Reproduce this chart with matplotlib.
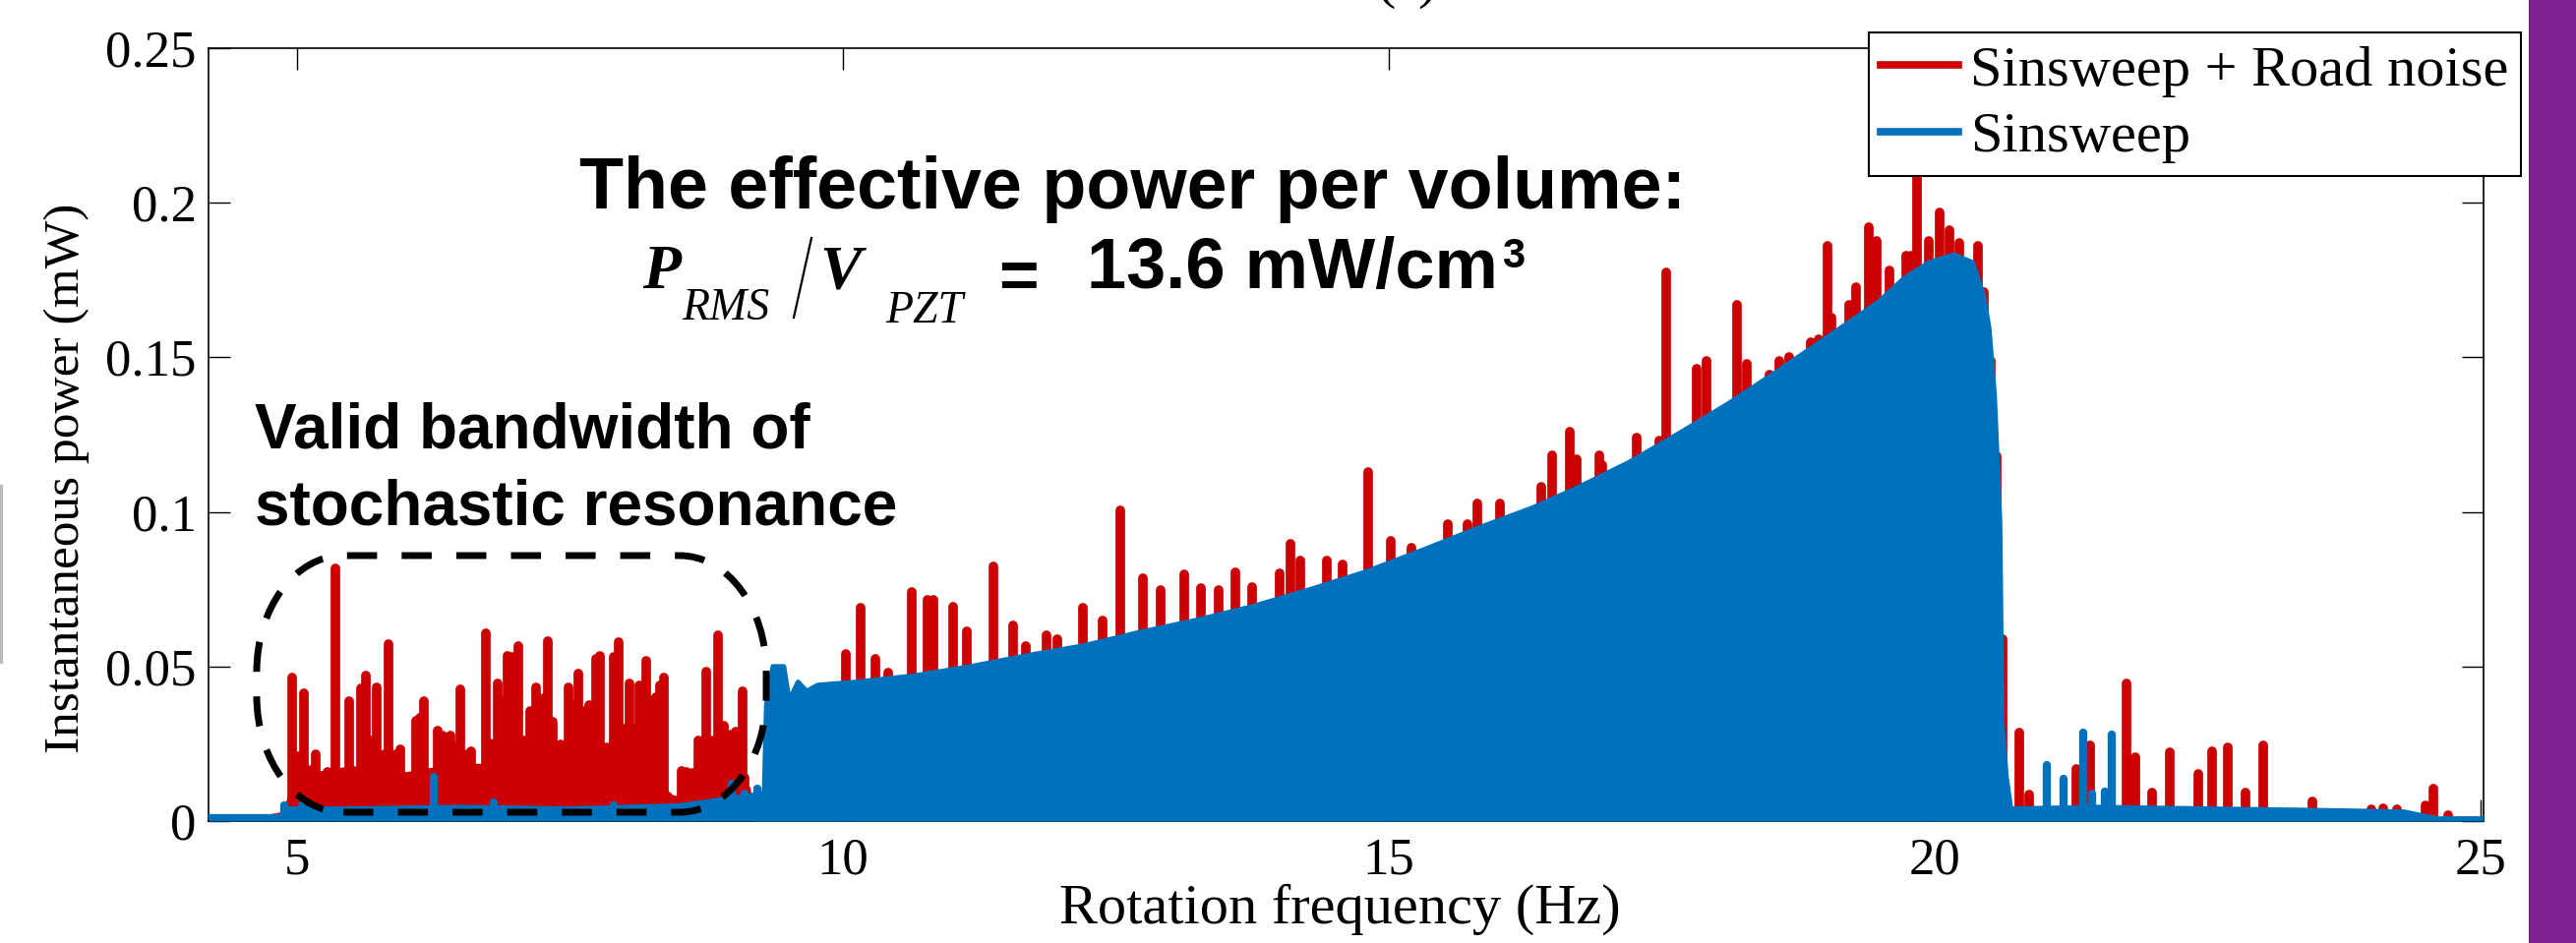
import matplotlib
matplotlib.use('Agg')
import matplotlib.pyplot as plt
from matplotlib.path import Path
from matplotlib.patches import PathPatch, Rectangle
from matplotlib.lines import Line2D
from matplotlib.transforms import IdentityTransform

W, H = 2619, 959

# ---- values ----
# upper envelope of the (dense) Sinsweep signal
blue_env_f = [4.19, 4.85, 4.90, 5.5, 6.5, 7.5, 8.5, 8.9, 9.10, 9.28, 9.30, 9.36, 9.46,
              9.51, 9.59, 9.67, 9.77, 10.13, 10.65, 11.17, 11.68, 12.20, 12.71, 13.24,
              13.75, 14.26, 14.78, 15.30, 15.82, 16.33, 16.74, 17.20, 17.66, 18.11,
              18.57, 19.03, 19.49, 19.72, 19.95, 20.18, 20.35, 20.45, 20.50, 20.55,
              20.60, 20.62, 20.66, 20.70, 21.5, 22.5, 23.5, 24.3, 24.6, 25.03]
blue_env_p = [0.0015, 0.0015, 0.004, 0.004, 0.0045, 0.004, 0.005, 0.007, 0.008, 0.009,
              0.0375, 0.050, 0.050, 0.039, 0.045, 0.042, 0.044, 0.045, 0.047, 0.050,
              0.0535, 0.0567, 0.061, 0.065, 0.0694, 0.0747, 0.0805, 0.0875, 0.0948,
              0.1015, 0.108, 0.116, 0.1254, 0.135, 0.1457, 0.1568, 0.168, 0.1755,
              0.1807, 0.1832, 0.1807, 0.170, 0.1597, 0.138, 0.097, 0.032, 0.014, 0.004,
              0.0045, 0.004, 0.0035, 0.003, 0.0008, 0.0008]
# isolated Sinsweep peaks
blue_spike_f = [4.88, 5.05, 6.25, 6.8, 7.9, 8.98, 9.10, 9.22,
                21.03, 21.18, 21.36, 21.44, 21.56, 21.62]
blue_spike_p = [0.005, 0.005, 0.0143, 0.006, 0.005, 0.012, 0.009, 0.0105,
                0.018, 0.0138, 0.0287, 0.009, 0.0094, 0.028]

# dense low part of Sinsweep + Road noise (5-9 Hz)
red_floor_f = [4.19, 4.5, 4.7, 4.85, 4.93, 5.0, 5.5, 6.0, 6.5, 7.0, 7.5, 8.0, 8.4,
               8.5, 8.7, 9.0, 9.15, 9.2]
red_floor_p = [0.001, 0.0015, 0.002, 0.003, 0.009, 0.015, 0.018, 0.016, 0.019, 0.018,
               0.020, 0.018, 0.009, 0.008, 0.014, 0.017, 0.011, 0.0]
# Sinsweep + Road noise peaks
red_spike_f = [4.955, 5.01, 5.06, 5.13, 5.17, 5.28, 5.35, 5.45, 5.48, 5.59, 5.63, 5.69,
               5.73, 5.80, 5.84, 5.91, 5.95, 6.09, 6.13, 6.16, 6.29, 6.33, 6.41, 6.45,
               6.50, 6.56, 6.60, 6.66, 6.73, 6.77, 6.84, 6.89, 6.93, 6.97, 7.03, 7.08,
               7.14, 7.19, 7.26, 7.30, 7.34, 7.42, 7.45, 7.49, 7.54, 7.58, 7.63, 7.68,
               7.74, 7.78, 7.84, 7.90, 7.95, 8.00, 8.05, 8.08, 8.14, 8.20, 8.26, 8.29,
               8.33, 8.36, 8.40, 8.52, 8.57, 8.62, 8.68, 8.75, 8.81, 8.86, 8.91, 8.97,
               9.02, 9.08, 9.10,
               10.03, 10.16, 10.30, 10.42, 10.63, 10.78, 10.83, 11.01, 11.14, 11.38,
               11.56, 11.68, 11.87, 11.97, 12.20, 12.38, 12.54, 12.75, 12.91, 13.13,
               13.28, 13.44, 13.60, 13.75, 14.00, 14.10, 14.19, 14.43, 14.58, 14.81,
               15.02, 15.21, 15.54, 15.72, 15.81, 16.02, 16.40, 16.50, 16.66, 16.72,
               16.93, 16.96, 17.27, 17.48, 17.54, 17.82, 17.91, 18.19, 18.28, 18.49,
               18.58, 18.67, 18.87, 18.94, 19.02, 19.06, 19.22, 19.28, 19.40, 19.47,
               19.59, 19.74, 19.79, 19.84, 19.95, 20.05, 20.14, 20.23, 20.40, 20.45,
               20.52, 20.57, 20.62,
               20.78, 20.87, 21.30, 21.43, 21.76, 21.84, 21.99, 22.16, 22.42, 22.54,
               22.69, 22.85, 23.01, 23.46, 24.00, 24.11, 24.24, 24.50, 24.57, 24.71]
red_spike_p = [0.0464, 0.021, 0.0413, 0.0165, 0.0217, 0.016, 0.0817, 0.010, 0.0388,
               0.043, 0.047, 0.026, 0.0432, 0.0217, 0.0573, 0.0217, 0.0232, 0.0323,
               0.0334, 0.0388, 0.0293, 0.0276, 0.0276, 0.024, 0.0426, 0.0217, 0.0226,
               0.011, 0.0608, 0.025, 0.0445, 0.0388, 0.0534, 0.053, 0.0566, 0.026,
               0.0356, 0.0432, 0.0397, 0.0583, 0.032, 0.0249, 0.024, 0.0432, 0.0376,
               0.0477, 0.0356, 0.0375, 0.0525, 0.0535, 0.024, 0.053, 0.0578, 0.030,
               0.0445, 0.030, 0.044, 0.0520, 0.039, 0.0400, 0.044, 0.0464, 0.008,
               0.0162, 0.016, 0.0157, 0.026, 0.0482, 0.026, 0.0602, 0.031, 0.028,
               0.029, 0.0419, 0.014,
               0.054, 0.069, 0.0525, 0.048, 0.074, 0.0716, 0.0716, 0.0694, 0.0614,
               0.0824, 0.0633, 0.0567, 0.0602, 0.0588, 0.069, 0.065, 0.1005, 0.0785,
               0.0747, 0.0798, 0.0753, 0.0747, 0.0805, 0.0757, 0.080, 0.0897, 0.0843,
               0.0843, 0.083, 0.113, 0.0906, 0.0885, 0.096, 0.096, 0.1027, 0.1027,
               0.108, 0.1183, 0.126, 0.117, 0.1183, 0.115, 0.124, 0.123, 0.1775,
               0.1463, 0.149, 0.167, 0.148, 0.1445, 0.149, 0.150, 0.155, 0.156, 0.186,
               0.163, 0.167, 0.1727, 0.192, 0.1877, 0.178, 0.183, 0.183, 0.208, 0.1877,
               0.197, 0.191, 0.187, 0.186, 0.171, 0.149, 0.118, 0.059,
               0.0287, 0.0086, 0.0168, 0.0244, 0.0445, 0.0207, 0.0092, 0.0223, 0.0153,
               0.0226, 0.0238, 0.0092, 0.0244, 0.0064, 0.0038, 0.004, 0.0038, 0.005,
               0.0105, 0.002]

x_ticks = [5, 10, 15, 20, 25]
y_ticks = [0, 0.05, 0.1, 0.15, 0.2, 0.25]
y_tick_labels = ['0', '0.05', '0.1', '0.15', '0.2', '0.25']
series_labels = ['Sinsweep + Road noise', 'Sinsweep']

red = '#cc0000'
blue = '#0072bd'

plt.rcParams['font.family'] = ['Liberation Serif', 'DejaVu Serif']

fig = plt.figure(figsize=(W / 100, H / 100), dpi=100)
ax = fig.add_axes([212 / W, 1 - 835 / H, (2525 - 212) / W, (835 - 49) / H])

ax.fill_between(red_floor_f, 0, red_floor_p, color=red, lw=0, zorder=2)
ax.vlines(red_spike_f, 0, red_spike_p, color=red, lw=7, capstyle='round', zorder=2)
ax.fill_between(blue_env_f, 0, blue_env_p, color=blue, lw=0, zorder=3)
ax.plot(blue_env_f, blue_env_p, color=blue, lw=3.5, solid_joinstyle='round', zorder=3)
ax.vlines(blue_spike_f, 0, blue_spike_p, color=blue, lw=6, capstyle='round', zorder=3)

ax.set_xlim(4.19, 25.03)
ax.set_ylim(0, 0.25)
ax.set_xticks(x_ticks)
ax.set_yticks(y_ticks)
ax.set_yticklabels(y_tick_labels)
ax.tick_params(direction='in', length=16, width=1, top=True, right=True,
               labelsize=38, colors='black')
ax.tick_params(axis='y', pad=9)
ax.tick_params(axis='x', pad=12)
for s in ax.spines.values():
    s.set_linewidth(1.2)

# axis labels
fig.text(1362 / W, 1 - 925 / H, 'Rotation frequency (Hz)', ha='center', va='center',
         fontsize=42)
fig.text(68 / W, 1 - 486 / H, 'Instantaneous power (mW)', ha='center', va='center',
         rotation=90, fontsize=37)
# top axis title, cut off by the figure edge
fig.text(1363 / W, 1 + 3 / H, 'Time (s)', ha='center', va='baseline', fontsize=42)

handles = [Line2D([], [], color=red, lw=5.5), Line2D([], [], color=blue, lw=5.5)]
leg = ax.legend(handles, series_labels, loc='upper right',
                bbox_to_anchor=(2563 / W, 1 - 33 / H), bbox_transform=fig.transFigure,
                borderaxespad=0, fontsize=42, handlelength=1.35, handletextpad=0.2,
                labelspacing=0.25, borderpad=0.22, fancybox=False, edgecolor='black',
                framealpha=1)
leg.get_frame().set_linewidth(1.5)


def ftext(x, y, s, **kw):
    fig.text(x / W, 1 - y / H, s, **kw)


sans = ['Liberation Sans', 'DejaVu Sans']
ftext(1152, 212, 'The effective power per volume:', ha='center', va='baseline',
      fontsize=53, fontweight='bold', family=sans)
ftext(653, 293, 'P', ha='left', va='baseline', fontsize=46, fontweight='bold',
      fontstyle='italic')
ftext(693, 325, 'RMS', ha='left', va='baseline', fontsize=33, fontstyle='italic')
ftext(833, 293, 'V', ha='left', va='baseline', fontsize=46, fontweight='bold',
      fontstyle='italic')
ftext(900, 328, 'PZT', ha='left', va='baseline', fontsize=33, fontstyle='italic')
ftext(1035, 285, '=', ha='center', va='center', fontsize=50, fontweight='bold',
      family=sans)
ftext(1105, 293, '13.6 mW/cm', ha='left', va='baseline', fontsize=52,
      fontweight='bold', family=sans)
ftext(1527, 272, '3', ha='left', va='baseline', fontsize=30, fontweight='bold',
      family=sans)
fig.add_artist(Line2D([807 / W, 825 / W], [1 - 323 / H, 1 - 242 / H], color='black',
                      lw=1.6, transform=fig.transFigure))

ftext(259, 456, 'Valid bandwidth of', ha='left', va='baseline', fontsize=46,
      fontweight='bold', family=sans)
ftext(259, 533, 'stochastic resonance', ha='left', va='baseline', fontsize=46,
      fontweight='bold', family=sans)

# dashed rounded box (pixel coordinates, y from the bottom)
x0, x1 = 261, 779
y0, y1 = H - 826, H - 565
rx, ry, k = 88, 118, 0.5523
verts = [(x0 + rx, y0), (x1 - rx, y0),
         (x1 - rx + k * rx, y0), (x1, y0 + ry - k * ry), (x1, y0 + ry),
         (x1, y1 - ry),
         (x1, y1 - ry + k * ry), (x1 - rx + k * rx, y1), (x1 - rx, y1),
         (x0 + rx, y1),
         (x0 + rx - k * rx, y1), (x0, y1 - ry + k * ry), (x0, y1 - ry),
         (x0, y0 + ry),
         (x0, y0 + ry - k * ry), (x0 + rx - k * rx, y0), (x0 + rx, y0),
         (x0 + rx, y0)]
codes = ([Path.MOVETO, Path.LINETO] + [Path.CURVE4] * 3 + [Path.LINETO]
         + [Path.CURVE4] * 3 + [Path.LINETO] + [Path.CURVE4] * 3 + [Path.LINETO]
         + [Path.CURVE4] * 3 + [Path.CLOSEPOLY])
fig.add_artist(PathPatch(Path(verts, codes), transform=IdentityTransform(),
                         facecolor='none', edgecolor='black', lw=5,
                         linestyle=(0, (4.4, 3.6))))

# purple band on the right edge and thin grey mark on the left edge
fig.add_artist(Rectangle((2571 / W, 0), (W - 2571) / W, 1, transform=fig.transFigure,
                         color='#7d2191', lw=0))
fig.add_artist(Rectangle((0, 1 - 675 / H), 3 / W, 182 / H, transform=fig.transFigure,
                         color='#bbbbbb', lw=0))

fig.savefig('out.png', dpi=100)
